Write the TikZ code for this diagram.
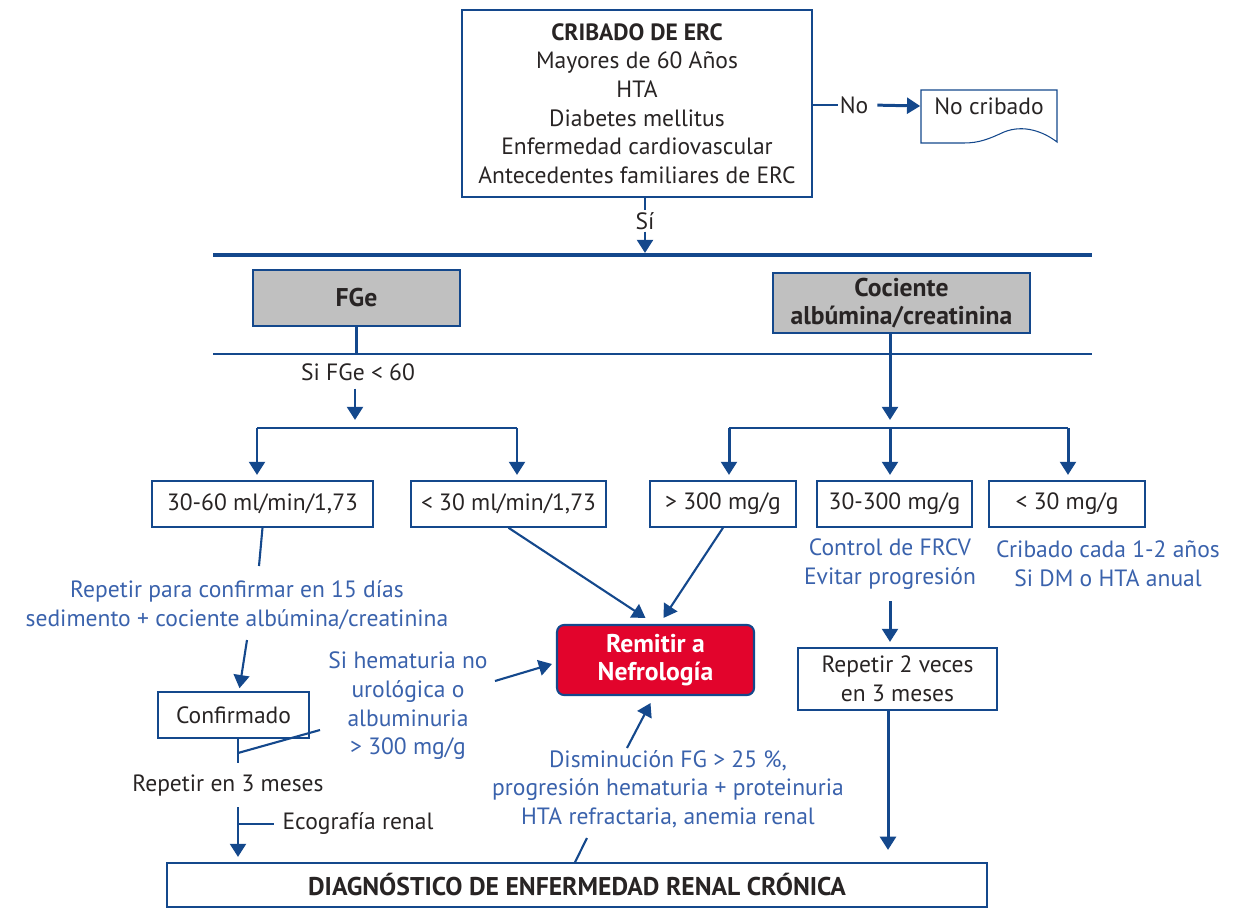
\documentclass[tikz,border=0pt]{standalone}
\usepackage{fontspec}
\setmainfont{PT Sans}
\usetikzlibrary{arrows.meta,positioning,calc}
\definecolor{lineblue}{RGB}{20,72,140}
\definecolor{noteblue}{RGB}{58,98,172}
\definecolor{ink}{RGB}{40,36,36}
\definecolor{boxgrey}{RGB}{192,192,192}
\definecolor{alarm}{RGB}{226,4,44}

\begin{document}
\begin{tikzpicture}[x=0.02cm, y=-0.02cm,
      font=\fontsize{13.4}{16.3}\selectfont,
      box/.style={draw=lineblue, line width=0.9pt, fill=white, text=ink,
                  align=center, inner sep=0pt},
      strong/.style={font=\fontsize{14.6}{16.3}\selectfont\bfseries},
      greybox/.style={box, fill=boxgrey, strong},
      note/.style={text=noteblue, align=center, inner sep=1pt},
      plain/.style={text=ink, align=center, inner sep=1pt},
      conn/.style={draw=lineblue, line width=1.7pt},
      thin/.style={draw=lineblue, line width=1.2pt},
      arr/.style={conn, -{Triangle[width=9pt,length=7.5pt]}}]
    \useasboundingbox (0,0) rectangle (1238,909);
    % screening criteria
    \node[box, minimum width=7cm, minimum height=3.74cm] (crib) at (637,103.5)
      {\textbf{CRIBADO DE ERC}\\Mayores de 60 Años\\HTA\\Diabetes mellitus\\
       Enfermedad cardiovascular\\Antecedentes familiares de ERC};
    \node[plain] (no) at (854,105) {No};
    \node[plain] (nocrib) at (989,106) {No cribado};
    \draw[conn] (crib.east |- no) -- (no.west);
    \draw[arr, shorten <=4pt] (no.east) -- ($(nocrib.west)+(-12,0)$);
    \draw[draw=lineblue, line width=0.6pt]
      ($(nocrib.center)+(-68,-16)$) -- ($(nocrib.center)+(68,-16)$)
      -- ($(nocrib.center)+(68,36)$)
      .. controls ($(nocrib.center)+(55,26)$) and ($(nocrib.center)+(35,18)$) .. ($(nocrib.center)+(15,26)$)
      .. controls ($(nocrib.center)+(0,33)$) and ($(nocrib.center)+(-10,37)$) .. ($(nocrib.center)+(-25,37)$)
      -- ($(nocrib.center)+(-68,37)$) -- cycle;
    \node[plain] (si) at (645,221) {Sí};
    \coordinate (hl1w) at (213,255);
    \coordinate (hl1e) at (1092,255);
    \draw[conn] (crib.south -| si) -- (si.north);
    \draw[arr] (si.south) -- ($(si |- hl1w)+(0,-2)$);
    \draw[draw=lineblue, line width=2.2pt] (hl1w) -- (hl1e);
    % the two tests
    \node[greybox, minimum width=4.14cm, minimum height=1.12cm] (fge) at (356.5,298) {FGe};
    \node[greybox, minimum width=5.14cm, minimum height=1.2cm] (cac) at (901.5,303)
      {Cociente\\albúmina/creatinina};
    \coordinate (hl2w) at (213,354);
    \coordinate (hl2e) at (1092,354);
    \draw[draw=lineblue, line width=0.9pt] (hl2w) -- (hl2e);
    \draw[conn] (fge.south) -- (fge.south |- hl2w);
    \node[plain] (sifge) at (358,372) {Si FGe < 60};
    % forks
    \coordinate (brL1) at (257,428);
    \coordinate (brR1) at (517,428);
    \coordinate (brL2) at (729,428);
    \coordinate (brM2) at (890,428);
    \coordinate (brR2) at (1068,428);
    \draw[arr] ($(sifge.south)+(-3,6)$) -- ($(sifge.south |- brL1)+(-3,-8)$);
    \draw[arr] (cac.south -| brM2) -- ($(brM2)+(0,-8)$);
    \draw[conn] (brL1) -- (brR1);
    \draw[conn] (brL2) -- (brR2);
    % results
    \node[box, minimum width=4.42cm, minimum height=0.92cm] (b3060) at (262.5,504) {30-60 ml/min/1,73};
    \node[box, minimum width=3.9cm, minimum height=0.92cm] (blt30) at (508.5,504) {< 30 ml/min/1,73};
    \node[box, minimum width=2.92cm, minimum height=0.92cm] (bgt300) at (723,504) {> 300 mg/g};
    \node[box, minimum width=3.1cm, minimum height=0.92cm] (b30300) at (894.5,504) {30-300 mg/g};
    \node[box, minimum width=3.12cm, minimum height=0.92cm] (blt30m) at (1067,504) {< 30 mg/g};
    \draw[arr, shorten >=3pt] (brL1) -- (brL1 |- b3060.north);
    \draw[arr, shorten >=3pt] (brR1) -- (brR1 |- blt30.north);
    \draw[arr, shorten >=3pt] (brL2) -- (brL2 |- bgt300.north);
    \draw[arr, shorten >=3pt] (brM2) -- (brM2 |- b30300.north);
    \draw[arr, shorten >=3pt] (brR2) -- (brR2 |- blt30m.north);
    \node[note] (frcv) at (890,564) {Control de FRCV\\Evitar progresión};
    \node[note] (crib12) at (1108,564) {Cribado cada 1-2 años\\Si DM o HTA anual};
    % referral
    \node[draw=lineblue, line width=1.2pt, fill=alarm, rounded corners=4pt, text=white,
          strong, align=center,
          minimum width=3.94cm, minimum height=1.4cm] (remit) at (655.5,660)
      {Remitir a\\Nefrología};
    \draw[arr, thin] (blt30.south) -- ($(remit.north)+(-10,-6)$);
    \draw[arr, thin] (bgt300.south) -- ($(remit.north)+(8,-6)$);
    % 30-300 branch
    \node[box, minimum width=3.98cm, minimum height=1.24cm] (rep2) at (897.5,679)
      {Repetir 2 veces\\en 3 meses};
    \draw[arr, shorten >=3pt] ($(frcv.south)+(0,10)$) -- (frcv.south |- rep2.north);
    % final diagnosis
    \node[box, minimum width=16.4cm, minimum height=0.88cm, strong] (diag) at (577,885)
      {DIAGNÓSTICO DE ENFERMEDAD RENAL CRÓNICA};
    \draw[arr, shorten >=7pt] ($(rep2.south)+(-9.5,0)$) -- ($(rep2.south |- diag.north)+(-9.5,0)$);
    % 30-60 branch
    \node[note] (rep15) at (237,605)
      {Repetir para confirmar en 15 días\\sedimento + cociente albúmina/creatinina};
    \coordinate (rep15top) at (259,566);
    \coordinate (rep15bot) at (247,640);
    \draw[thin] (b3060.south) -- (rep15top);
    \node[box, minimum width=3.02cm, minimum height=0.92cm] (conf) at (233.5,715) {Confirmado};
    \draw[arr, thin] (rep15bot) -- ($(conf.north)+(6,-3)$);
    \node[note] (hema) at (408,706) {Si hematuria no\\urológica o\\albuminuria\\> 300 mg/g};
    \coordinate (hemaout) at (495,681);
    \coordinate (hemain) at (320,730);
    \coordinate (conf1) at (238,753);
    \draw[arr, thin] (hemaout) -- ($(remit.west)+(-4,4)$);
    \draw[conn] ($(conf.south)+(4.5,0)$) -- ($(conf.south)+(4.5,24)$);
    \draw[thin] (conf1) -- (hemain);
    \node[plain] (rep3) at (228,786) {Repetir en 3 meses};
    \node[plain] (eco) at (358,824) {Ecografía renal};
    \coordinate (eco1) at (238,807);
    \draw[arr, shorten >=3pt] (eco1) -- (eco1 |- diag.north);
    \draw[conn] (eco1 |- eco) -- ($(eco.west)+(-6,0)$);
    % progression criteria
    \node[note] (dism) at (668,789)
      {Disminución FG > 25 \%,\\progresión hematuria + proteinuria\\HTA refractaria, anemia renal};
    \coordinate (dismtop) at (627,748);
    \coordinate (dismfoot) at (587,838);
    \draw[arr, thin] (dismtop) -- ($(remit.south)+(-5,7)$);
    \draw[thin] ($(diag.north)+(-2,0)$) -- (dismfoot);
\end{tikzpicture}
\end{document}
